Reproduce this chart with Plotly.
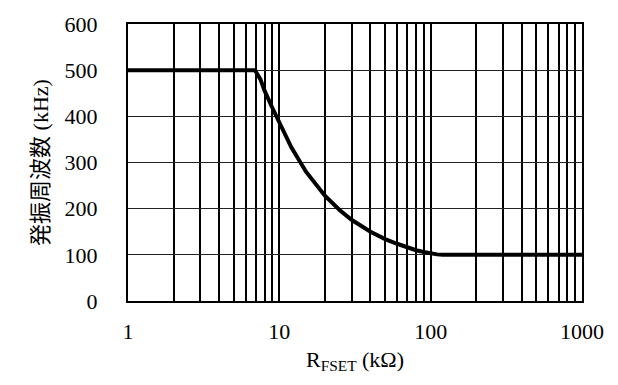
import plotly.graph_objects as go

# Data
r_fset_kohm = [1, 6.9, 7.5, 8, 9, 10, 12, 15, 20, 25, 30, 40, 50, 60, 70, 80, 90, 100, 110, 120, 1000]
freq_khz = [500, 500, 480, 455, 418, 385, 333, 280, 228, 197, 176, 150, 134, 124, 116, 110, 106, 103, 101, 100, 100]

x_tickvals = [m * d for d in (1, 10, 100) for m in range(1, 10)] + [1000]
x_ticktext = [str(v) if v in (1, 10, 100, 1000) else "" for v in x_tickvals]
y_tickvals = [0, 100, 200, 300, 400, 500, 600]
y_ticktext = ["0", "100", "200", "300", "400", "500", "600"]

FONT = "Liberation Serif"
FONT_CJK = "Liberation Serif, Noto Sans CJK JP"

fig = go.Figure()
fig.add_trace(go.Scatter(
    x=r_fset_kohm, y=freq_khz, mode="lines",
    line=dict(color="black", width=4),
    showlegend=False, hoverinfo="skip",
))

fig.update_layout(
    width=618, height=385,
    margin=dict(l=128, r=36, t=16, b=84),
    paper_bgcolor="white", plot_bgcolor="white",
    font=dict(family=FONT, size=22, color="black"),
    xaxis=dict(
        type="log", range=[0, 3],
        tickmode="array", tickvals=x_tickvals, ticktext=x_ticktext,
        showgrid=True, gridcolor="black", gridwidth=1.5,
        showline=True, linecolor="black", linewidth=2, mirror=True,
        ticks="outside", ticklen=10, tickcolor="rgba(0,0,0,0)",
        tickfont=dict(family=FONT, size=22, color="black"),
        title=dict(text="R<sub>FSET</sub> (kΩ)", font=dict(family=FONT, size=22, color="black"), standoff=8),
        zeroline=False,
    ),
    yaxis=dict(
        range=[0, 600],
        tickmode="array", tickvals=y_tickvals, ticktext=y_ticktext,
        showgrid=True, gridcolor="#222222", gridwidth=1.2,
        showline=True, linecolor="black", linewidth=2, mirror=True,
        ticks="outside", ticklen=24, tickcolor="rgba(0,0,0,0)",
        tickfont=dict(family=FONT, size=22, color="black"),
        title=dict(text="発振周波数 (kHz)", font=dict(family=FONT_CJK, size=22, color="black"), standoff=10),
        zeroline=False,
    ),
)

fig.write_html("out.html")
